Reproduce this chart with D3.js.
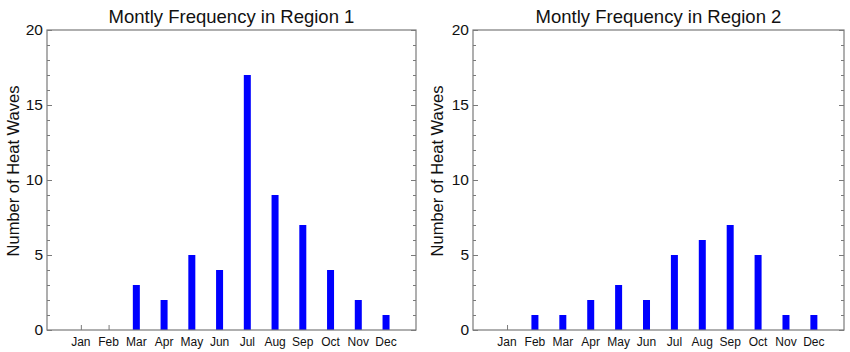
<!DOCTYPE html>
<html>
<head>
<meta charset="utf-8">
<script src="https://cdn.jsdelivr.net/npm/d3@7"></script>
<style>
  body { margin: 0; background: #fff; }
  svg { display: block; font-family: "Liberation Sans", Arial, sans-serif; }
</style>
</head>
<body>
<svg></svg>
<script>
let months = ['Jan', 'Feb', 'Mar', 'Apr', 'May', 'Jun', 'Jul', 'Aug', 'Sep', 'Oct', 'Nov', 'Dec']
let region1 = [0, 0, 3, 2, 5, 4, 17, 9, 7, 4, 2, 1]
let region2 = [0, 1, 1, 2, 3, 2, 5, 6, 7, 5, 1, 1]
let titles = ['Montly Frequency in Region 1', 'Montly Frequency in Region 2']
let yMajorTicks = [0, 5, 10, 15, 20]
let yLabel = 'Number of Heat Waves'

let svgWidth = 850
let svgHeight = 352

let svg = d3.select('svg')
  .attr('width', svgWidth)
  .attr('height', svgHeight)

let panels = [
  { left: 47, right: 416, values: region1, title: titles[0], labelX: 19 },
  { left: 473, right: 844, values: region2, title: titles[1], labelX: 443 }
]

let plotTop = 30
let plotBottom = 330
let frameColor = '#7a7a7a'

function drawPanel (p) {
  let x = d3.scaleLinear()
    .domain([-0.22, 13.08])
    .range([p.left, p.right])

  let y = d3.scaleLinear()
    .domain([0, 20])
    .range([plotBottom, plotTop])

  let g = svg.append('g')

  // minor + major y ticks, both sides, pointing in
  let minor = d3.range(0, 21).filter((d) => d % 5 !== 0)
  g.append('g').attr('transform', `translate(${p.left},0)`)
    .call(d3.axisRight(y).tickValues(minor).tickSize(3).tickFormat(''))
  g.append('g').attr('transform', `translate(${p.left},0)`)
    .call(d3.axisRight(y).tickValues(yMajorTicks).tickSize(5).tickFormat(''))
  g.append('g').attr('transform', `translate(${p.right},0)`)
    .call(d3.axisLeft(y).tickValues(minor).tickSize(3).tickFormat(''))
  g.append('g').attr('transform', `translate(${p.right},0)`)
    .call(d3.axisLeft(y).tickValues(yMajorTicks).tickSize(5).tickFormat(''))

  // x ticks inside, month labels below
  g.append('g').attr('transform', `translate(0,${plotBottom})`)
    .call(d3.axisTop(x).tickValues(d3.range(1, 13)).tickSize(5).tickFormat(''))

  g.selectAll('.domain').remove()
  g.selectAll('.tick line').attr('stroke', frameColor).attr('stroke-width', 1)

  g.selectAll('.ylab')
    .data(yMajorTicks)
    .enter()
    .append('text')
    .attr('x', p.left - 4)
    .attr('y', (d) => y(d) + 5)
    .attr('text-anchor', 'end')
    .attr('font-size', 15.5)
    .attr('fill', '#111')
    .text((d) => d)

  g.selectAll('.mlab')
    .data(months)
    .enter()
    .append('text')
    .attr('x', (d, i) => x(i + 1))
    .attr('y', 346)
    .attr('text-anchor', 'middle')
    .attr('font-size', 12)
    .attr('fill', '#111')
    .text((d) => d)

  // bars
  let barW = 7
  g.selectAll('.bar')
    .data(p.values)
    .enter()
    .append('rect')
    .attr('x', (d, i) => x(i + 1) - barW / 2)
    .attr('y', (d) => y(d))
    .attr('width', barW)
    .attr('height', (d) => y(0) - y(d))
    .attr('fill', '#0000ff')

  // frame
  g.append('rect')
    .attr('x', p.left)
    .attr('y', plotTop)
    .attr('width', p.right - p.left)
    .attr('height', plotBottom - plotTop)
    .attr('fill', 'none')
    .attr('stroke', frameColor)
    .attr('stroke-width', 1.2)

  g.append('text')
    .attr('x', (p.left + p.right) / 2)
    .attr('y', 23)
    .attr('text-anchor', 'middle')
    .attr('font-size', 18.5)
    .attr('fill', '#111')
    .text(p.title)

  g.append('text')
    .attr('transform', `translate(${p.labelX},171) rotate(-90)`)
    .attr('text-anchor', 'middle')
    .attr('font-size', 16.5)
    .attr('fill', '#111')
    .text(yLabel)
}

panels.forEach(drawPanel)
</script>
</body>
</html>
